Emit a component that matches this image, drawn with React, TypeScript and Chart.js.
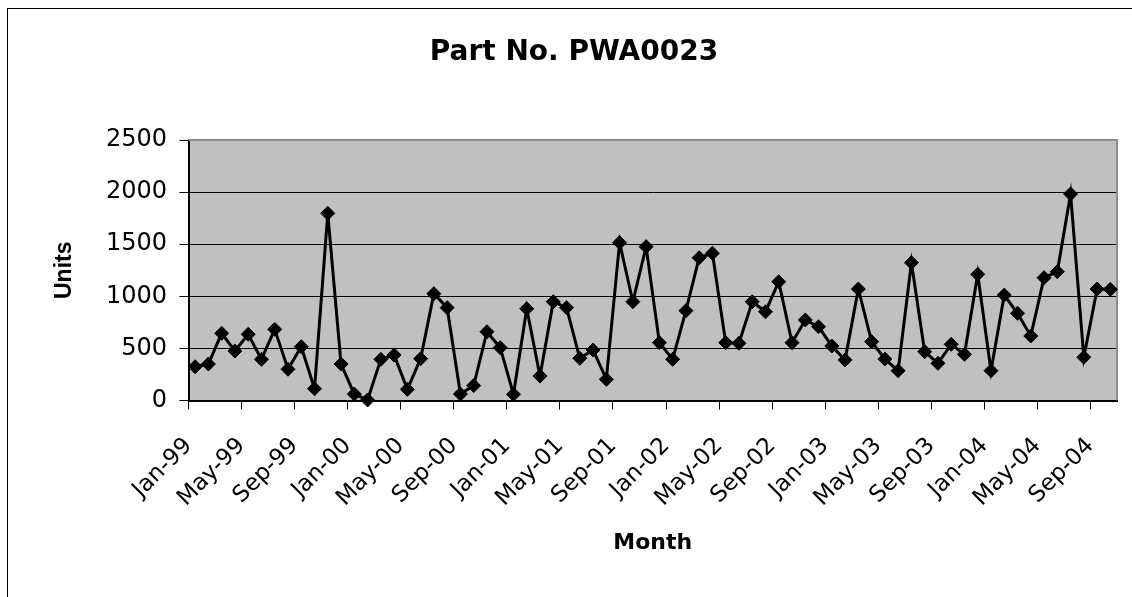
import React, { useEffect, useRef } from "react";
import { Chart, registerables } from "chart.js";

Chart.register(...registerables);

const months = [
  "Jan-99","Feb-99","Mar-99","Apr-99","May-99","Jun-99","Jul-99","Aug-99","Sep-99","Oct-99","Nov-99","Dec-99",
  "Jan-00","Feb-00","Mar-00","Apr-00","May-00","Jun-00","Jul-00","Aug-00","Sep-00","Oct-00","Nov-00","Dec-00",
  "Jan-01","Feb-01","Mar-01","Apr-01","May-01","Jun-01","Jul-01","Aug-01","Sep-01","Oct-01","Nov-01","Dec-01",
  "Jan-02","Feb-02","Mar-02","Apr-02","May-02","Jun-02","Jul-02","Aug-02","Sep-02","Oct-02","Nov-02","Dec-02",
  "Jan-03","Feb-03","Mar-03","Apr-03","May-03","Jun-03","Jul-03","Aug-03","Sep-03","Oct-03","Nov-03","Dec-03",
  "Jan-04","Feb-04","Mar-04","Apr-04","May-04","Jun-04","Jul-04","Aug-04","Sep-04","Oct-04",
];

const units = [
  324, 350, 645, 475, 635, 395, 683, 300, 516, 113, 1796, 350,
  62, 5, 395, 437, 107, 401, 1025, 891, 62, 143, 660, 507,
  59, 881, 235, 948, 891, 405, 485, 203, 1515, 948, 1476, 555,
  395, 862, 1370, 1413, 555, 549, 948, 852, 1140, 555, 773, 708,
  523, 389, 1070, 565, 398, 286, 1323, 469, 357, 539, 443, 1211,
  286, 1012, 837, 619, 1179, 1236, 1982, 415, 1070, 1067,
];

const tickLabels = [
  "Jan-99","May-99","Sep-99","Jan-00","May-00","Sep-00","Jan-01","May-01","Sep-01",
  "Jan-02","May-02","Sep-02","Jan-03","May-03","Sep-03","Jan-04","May-04","Sep-04",
];

const yMin = 0;
const yMax = 2500;
const yStep = 500;

const plotArea = {
  id: "plotArea",
  beforeDraw(chart: any) {
    const { ctx, chartArea } = chart;
    const { left, top, right, bottom } = chartArea;
    ctx.save();
    ctx.fillStyle = "#C0C0C0";
    ctx.fillRect(left, top, right - left, bottom - top);
    ctx.restore();
  },
  beforeDatasetsDraw(chart: any) {
    const { ctx, chartArea } = chart;
    const { left, top, right, bottom } = chartArea;
    ctx.save();
    ctx.strokeStyle = "#8c8c8c";
    ctx.lineWidth = 2;
    ctx.beginPath();
    ctx.moveTo(left, top);
    ctx.lineTo(right, top);
    ctx.lineTo(right, bottom);
    ctx.stroke();
    ctx.restore();
  },
};

export default function App() {
  const ref = useRef<HTMLCanvasElement | null>(null);

  useEffect(() => {
    if (!ref.current) return;
    const chart = new Chart(ref.current, {
      type: "line",
      data: {
        labels: months,
        datasets: [
          {
            label: "Units",
            data: units,
            borderColor: "#000",
            borderWidth: 3,
            backgroundColor: "#000",
            pointStyle: "rectRot",
            pointRadius: 7,
            pointBorderWidth: 1,
            pointBackgroundColor: "#000",
            pointBorderColor: "#000",
            tension: 0,
            clip: false,
          } as any,
        ],
      },
      options: {
        responsive: false,
        animation: false,
        devicePixelRatio: 1,
        layout: { padding: { left: 31, right: 31, top: 0, bottom: 0 } },
        plugins: {
          legend: { display: false },
          tooltip: { enabled: false },
          title: {
            display: true,
            text: "Part No. PWA0023",
            color: "#000",
            font: { family: "'DejaVu Sans'", size: 28, weight: "bold" },
            padding: { top: 36, bottom: 70.4 },
          },
        },
        scales: {
          x: {
            type: "category",
            offset: true,
            afterFit(scale: any) {
              scale.height = 196.5;
              scale.paddingLeft = 0;
              scale.paddingRight = 0;
            },
            grid: {
              display: true,
              offset: true,
              drawOnChartArea: false,
              drawTicks: true,
              tickLength: 9,
              tickWidth: 1,
              tickColor: (ctx: any) =>
                typeof ctx.index === "number" && tickLabels.includes(months[ctx.index])
                  ? "#000"
                  : "rgba(0,0,0,0)",
            },
            border: { display: true, color: "#000", width: 2 },
            ticks: {
              autoSkip: false,
              maxRotation: 45,
              minRotation: 45,
              padding: 23,
              labelOffset: -6.63,
              color: "#000",
              font: { family: "'DejaVu Sans'", size: 23 },
              callback: (_v: any, i: number) =>
                tickLabels.includes(months[i]) ? months[i] : "",
            },
            title: {
              display: true,
              text: "Month",
              color: "#000",
              font: { family: "'DejaVu Sans'", size: 22, weight: "bold" },
              padding: { top: 0, bottom: 40.8 },
            },
          },
          y: {
            min: yMin,
            max: yMax,
            afterFit(scale: any) {
              scale.width = 157.5;
              scale.paddingTop = 0;
              scale.paddingBottom = 0;
            },
            grid: {
              color: "#000",
              lineWidth: 1,
              drawTicks: true,
              tickLength: 9,
              tickColor: "#000",
            },
            border: { display: true, color: "#000", width: 2 },
            ticks: {
              stepSize: yStep,
              padding: 12.5,
              color: "#000",
              font: { family: "'DejaVu Sans'", size: 24 },
              callback: (v: any) => String(v),
            },
            title: {
              display: true,
              text: "Units",
              color: "#000",
              font: { family: "'Liberation Sans'", size: 23, weight: "bold" },
              padding: { top: 20.2, bottom: 0 },
            },
          },
        },
      },
      plugins: [plotArea],
    });
    return () => chart.destroy();
  }, []);

  return (
    <div
      style={{
        position: "fixed",
        left: 0,
        top: 0,
        width: 1132,
        height: 597,
        overflow: "hidden",
        background: "#fff",
      }}
    >
      <div
        style={{
          position: "absolute",
          left: 7,
          top: 8,
          width: 1300,
          height: 800,
          borderLeft: "1px solid #000",
          borderTop: "1px solid #000",
        }}
      />
      <canvas
        ref={ref}
        width={1148}
        height={597}
        style={{ position: "absolute", left: 0, top: 0, width: 1148, height: 597 }}
      />
    </div>
  );
}
